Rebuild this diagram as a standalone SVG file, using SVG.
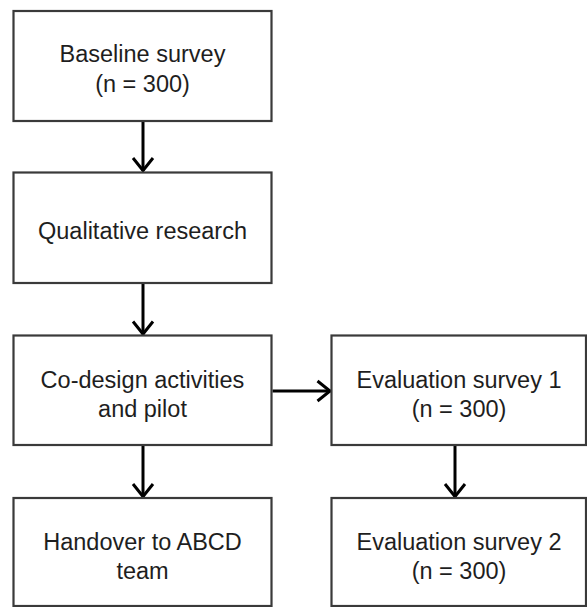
<svg xmlns="http://www.w3.org/2000/svg" width="587" height="607" viewBox="0 0 587 607">
<style>
.box{fill:#fff;stroke:#3a3a3a;stroke-width:2.2}
.t{font-family:"Liberation Sans",Arial,Helvetica,sans-serif;font-size:23.5px;fill:#1e1e1e;text-anchor:middle}
.c{fill:none;stroke:#000;stroke-width:3}
</style>
<defs>
<marker id="arr" markerUnits="userSpaceOnUse" markerWidth="30" markerHeight="30" refX="15" refY="15" orient="auto" viewBox="0 0 30 30">
<path d="M2,5 L14.5,15 L2,25" fill="none" stroke="#000" stroke-width="3"/>
</marker>
</defs>
<rect width="587" height="607" fill="#fff"/>
<g id="connectors">
<path class="c" d="M143,122 V171" marker-end="url(#arr)"/>
<path class="c" d="M143,284 V334.5" marker-end="url(#arr)"/>
<path class="c" d="M272.5,391 H330.5" marker-end="url(#arr)"/>
<path class="c" d="M143,446 V497" marker-end="url(#arr)"/>
<path class="c" d="M455,446 V497" marker-end="url(#arr)"/>
</g>
<g id="baseline">
<rect class="box" x="13.5" y="11" width="258" height="110"/>
<text class="t" x="142.5" y="62">Baseline survey</text>
<text class="t" x="142.5" y="92">(n = 300)</text>
</g>
<g id="qualitative">
<rect class="box" x="13.5" y="172.5" width="258" height="110.5"/>
<text class="t" x="142.5" y="239">Qualitative research</text>
</g>
<g id="codesign">
<rect class="box" x="13.5" y="335.5" width="258" height="109.5"/>
<text class="t" x="142.5" y="388">Co-design activities</text>
<text class="t" x="142.5" y="417">and pilot</text>
</g>
<g id="eval1">
<rect class="box" x="331.5" y="335.5" width="254.5" height="109.5"/>
<text class="t" x="459" y="388">Evaluation survey 1</text>
<text class="t" x="459" y="417">(n = 300)</text>
</g>
<g id="handover">
<rect class="box" x="13.5" y="498" width="258" height="108"/>
<text class="t" x="142.5" y="550">Handover to ABCD</text>
<text class="t" x="142.5" y="579">team</text>
</g>
<g id="eval2">
<rect class="box" x="331.5" y="498" width="254.5" height="108"/>
<text class="t" x="459" y="550">Evaluation survey 2</text>
<text class="t" x="459" y="579">(n = 300)</text>
</g>
</svg>
